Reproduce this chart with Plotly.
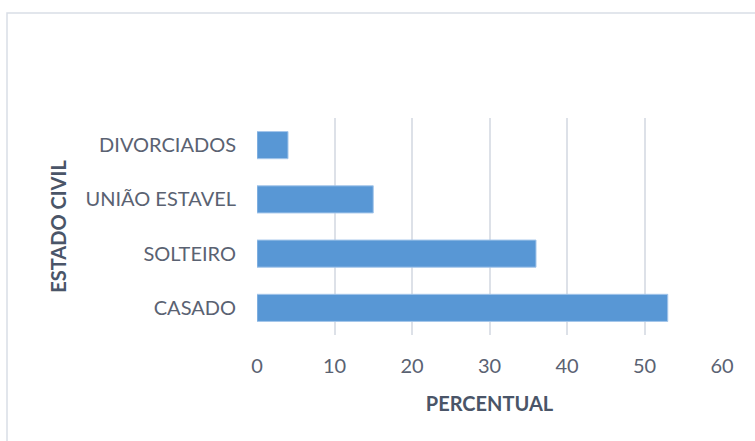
import plotly.graph_objects as go

# Estado civil dos respondentes (%)
categorias = ["CASADO", "SOLTEIRO", "UNIÃO ESTAVEL", "DIVORCIADOS"]
percentuais = [53, 36, 15, 4]
ticks_x = [0, 10, 20, 30, 40, 50, 60]

fig = go.Figure()
fig.add_trace(go.Bar(
    y=categorias,
    x=percentuais,
    orientation="h",
    width=0.5,
    marker=dict(color="#5897d5", line=dict(color="#a4c6ea", width=1)),
    hoverinfo="x+y",
))

font_fam = "Lato, Calibri, Arial, sans-serif"
fig.update_layout(
    width=755,
    height=441,
    margin=dict(l=257, r=33, t=118, b=106),
    paper_bgcolor="white",
    plot_bgcolor="white",
    showlegend=False,
    font=dict(family=font_fam, color="#5a6272", size=20),
    xaxis=dict(
        range=[0, 60],
        tickvals=ticks_x,
        showgrid=True,
        gridcolor="#dde1e8",
        gridwidth=1.5,
        zeroline=False,
        showline=False,
        ticks="",
        ticklabelstandoff=17,
        tickfont=dict(size=20, color="#5a6272"),
        title=dict(text="<b>PERCENTUAL</b>", standoff=20,
                   font=dict(size=20, color="#4a5568")),
        fixedrange=True,
    ),
    yaxis=dict(
        categoryorder="array",
        categoryarray=categorias,
        range=[-0.5, 3.5],
        showgrid=False,
        zeroline=False,
        showline=False,
        ticks="",
        ticklabelstandoff=20,
        tickfont=dict(size=20, color="#5a6272"),
        title=dict(text="<b>ESTADO CIVIL</b>", standoff=13,
                   font=dict(size=20, color="#4a5568")),
        fixedrange=True,
    ),
    shapes=[
        # chart frame
        dict(type="rect", xref="paper", yref="paper",
             x0=(7 - 257) / 465, x1=(770 - 257) / 465,
             y0=(335 - 460) / 217, y1=(335 - 13) / 217,
             line=dict(color="#d9dee6", width=1.5), layer="below"),
    ],
)

fig.write_html("out.html")
